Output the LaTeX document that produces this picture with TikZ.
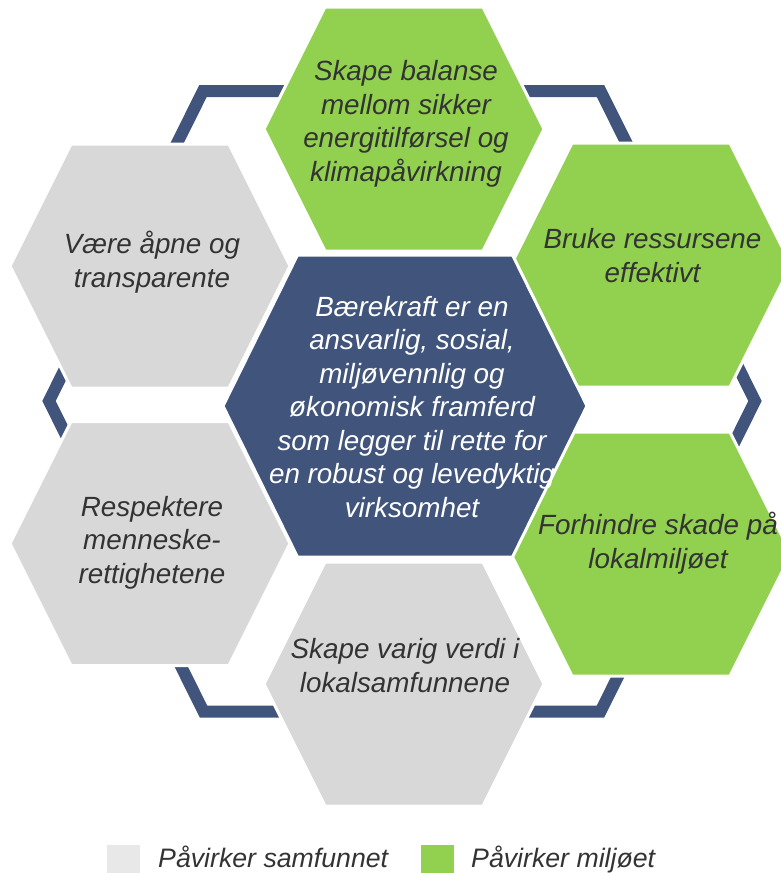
\documentclass[tikz,border=0pt]{standalone}
\usepackage{fontspec}
\setmainfont{Liberation Sans}
\definecolor{hexblue}{RGB}{64,84,124}
\definecolor{hexgreen}{RGB}{146,208,80}
\definecolor{hexgrey}{RGB}{216,216,216}
\definecolor{leggrey}{RGB}{232,232,232}
\definecolor{txtgrey}{RGB}{51,51,51}
\tikzset{
  hexcell/.pic={\path[pic actions] (-140,0) -- (-79,-122) -- (79,-122) -- (140,0) -- (79,122) -- (-79,122) -- cycle;},
  hexg/.style={fill=hexgreen, draw=white, line width=3pt},
  hexl/.style={fill=hexgrey, draw=white, line width=3pt},
  band/.style={draw=hexblue, line width=12pt, line join=miter},
  txt/.style={font=\fontsize{27.8}{33.5}\selectfont\itshape, text=txtgrey, align=center, inner sep=0pt},
  ctxt/.style={txt, text=white},
  legtxt/.style={font=\fontsize{26.7}{30}\selectfont\itshape, text=txtgrey, inner sep=0pt},
}
\begin{document}
\begin{tikzpicture}[x=1pt,y=-1pt]
\useasboundingbox (0,0) rectangle (781,873);
% background hexagonal band
\draw[band] (49,401) -- (203,91) -- (600.5,91) -- (755,401) -- (600.5,711.5) -- (203.5,711.5) -- cycle;
% outer hexagons
\pic[hexg] (hT) at (404,129) {hexcell};
\pic[hexl] (hLT) at (150,266) {hexcell};
\pic[hexl] (hLB) at (150,543.5) {hexcell};
\pic[hexg] (hRT) at (651,265) {hexcell};
\pic[hexg] (hRB) at (651,554) {hexcell};
\pic[hexl] (hB) at (404,684) {hexcell};
% centre hexagon
\path[fill=hexblue, draw=white, line width=3pt] (223,406) -- (297.5,255) -- (512.5,255) -- (587,406) -- (512.5,557) -- (297.5,557) -- cycle;
% texts (anchor base = baseline of the last line)
\node[txt, anchor=base] (tT) at (406,181) {Skape balanse\\mellom sikker\\energitilførsel og\\klimapåvirkning};
\node[txt, anchor=base] (tLT) at (152,287) {Være åpne og\\transparente};
\node[txt, anchor=base] (tLB) at (152,583) {Respektere\\menneske-\\rettighetene};
\node[ctxt, anchor=base] (tC) at (412,517) {Bærekraft er en\\ansvarlig, sosial,\\miljøvennlig og\\økonomisk framferd\\som legger til rette for\\en robust og levedyktig\\virksomhet};
\node[txt, anchor=base] (tRT) at (652.5,282) {Bruke ressursene\\effektivt};
\node[txt, anchor=base] (tRB) at (658,568) {Forhindre skade på\\lokalmiljøet};
\node[txt, anchor=base] (tB) at (405,692) {Skape varig verdi i\\lokalsamfunnene};
% legend
\fill[leggrey] (107,845) rectangle (140,878);
\node[legtxt, anchor=base west] (l1) at (158,867) {Påvirker samfunnet};
\fill[hexgreen] (421,845) rectangle (454,878);
\node[legtxt, anchor=base west] (l2) at (471,867) {Påvirker miljøet};
\end{tikzpicture}
\end{document}
